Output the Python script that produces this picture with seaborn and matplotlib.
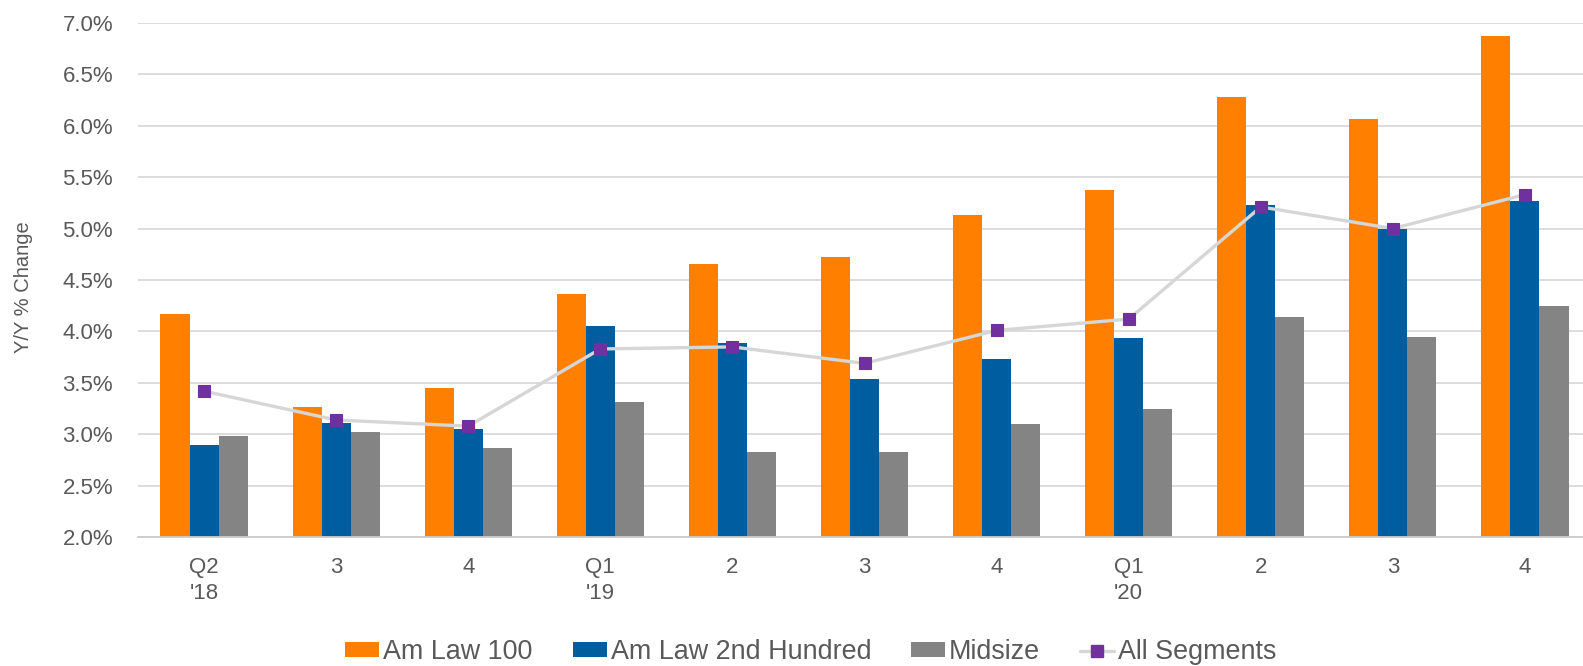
import numpy as np
import pandas as pd
import matplotlib
matplotlib.use("Agg")
import matplotlib.pyplot as plt
from matplotlib.patches import Patch
from matplotlib.lines import Line2D
import seaborn as sns

# Quarterly year-over-year change (%) by firm segment
quarters = ["2018Q2", "2018Q3", "2018Q4", "2019Q1", "2019Q2", "2019Q3",
            "2019Q4", "2020Q1", "2020Q2", "2020Q3", "2020Q4"]
tick_labels = ["Q2\n'18", "3", "4", "Q1\n'19", "2", "3", "4",
               "Q1\n'20", "2", "3", "4"]

am_law_100 = [4.17, 3.27, 3.45, 4.36, 4.66, 4.72, 5.13, 5.37, 6.28, 6.06, 6.87]
am_law_2nd_hundred = [2.90, 3.11, 3.05, 4.05, 3.89, 3.54, 3.73, 3.94, 5.23, 5.00, 5.27]
midsize = [2.98, 3.02, 2.87, 3.31, 2.83, 2.83, 3.10, 3.25, 4.14, 3.95, 4.25]
all_segments = [3.42, 3.14, 3.08, 3.83, 3.85, 3.69, 4.01, 4.12, 5.21, 5.00, 5.33]

segment_names = ["Am Law 100", "Am Law 2nd Hundred", "Midsize"]
segment_colors = ["#FF8000", "#005DA0", "#848484"]
line_color = "#D6D6D6"
marker_color = "#7030A0"
text_color = "#595959"
grid_color = "#D9D9D9"

df = pd.DataFrame({
    "quarter": quarters * 3,
    "segment": np.repeat(segment_names, len(quarters)),
    "value": am_law_100 + am_law_2nd_hundred + midsize,
})

sns.set_theme(style="white")
plt.rcParams["font.family"] = ["Liberation Sans", "DejaVu Sans"]

fig = plt.figure(figsize=(15.83, 6.66), dpi=100)
ax = fig.add_axes([138 / 1583, 1 - 537.3 / 666, (1591 - 138) / 1583, (537.3 - 22.7) / 666])

sns.barplot(data=df, x="quarter", y="value", hue="segment", order=quarters,
            hue_order=segment_names, palette=segment_colors, width=0.66,
            saturation=1, linewidth=0, ax=ax, legend=False, zorder=2)

sns.lineplot(x=np.arange(len(quarters)), y=all_segments, ax=ax, color=line_color,
             linewidth=2.4, marker="s", markersize=9, markerfacecolor=marker_color,
             markeredgecolor=marker_color, markeredgewidth=0.8, zorder=4)

ax.set_xlim(-0.5, len(quarters) - 0.5)
ax.set_ylim(2.0, 7.0)
ax.set_yticks(np.arange(2.0, 7.01, 0.5))
ax.set_yticklabels([f"{v:.1f}%" for v in np.arange(2.0, 7.01, 0.5)])
ax.set_xticks(np.arange(len(quarters)))
ax.set_xticklabels(tick_labels, linespacing=1.35)

ax.grid(axis="y", color=grid_color, linewidth=1.3, zorder=0)
ax.set_axisbelow(True)
for side in ["top", "right", "left"]:
    ax.spines[side].set_visible(False)
ax.spines["bottom"].set_color("#CCCCCC")
ax.spines["bottom"].set_linewidth(1.3)

ax.tick_params(axis="y", length=0, pad=18, labelsize=16, labelcolor=text_color)
ax.tick_params(axis="x", length=0, pad=14, labelsize=16, labelcolor=text_color)
ax.set_xlabel("")
ax.set_ylabel("Y/Y % Change", fontsize=14.5, color=text_color)
ax.yaxis.set_label_coords((33 - 138) / 1453, (537.3 - 287.5) / 514.6)

handles = [Patch(facecolor=c, edgecolor="none") for c in segment_colors]
handles.append(Line2D([0], [0], color=line_color, linewidth=2.4, marker="s",
                      markersize=8, markerfacecolor=marker_color,
                      markeredgecolor=marker_color))
fig.legend(handles, segment_names + ["All Segments"], loc="center",
           bbox_to_anchor=(811 / 1583, 1 - 652 / 666), ncol=4, frameon=False,
           fontsize=19.4, labelcolor=text_color, handlelength=1.26,
           handleheight=0.45, handletextpad=0.15, columnspacing=1.48,
           borderpad=0.0)

fig.savefig("out.png", dpi=100)
